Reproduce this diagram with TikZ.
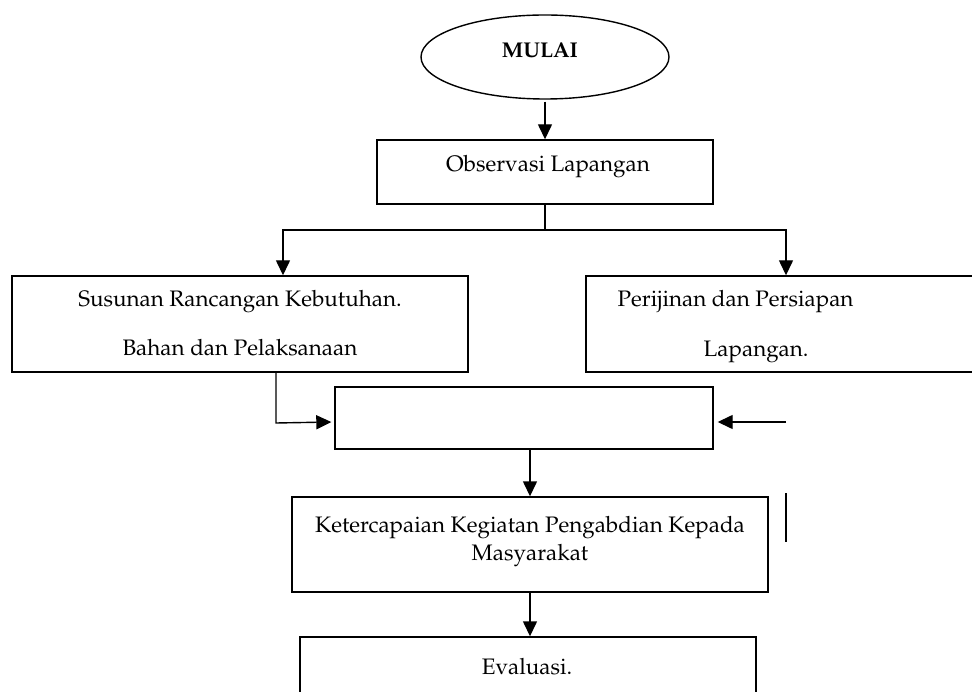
\documentclass[tikz,border=0pt]{standalone}
\usepackage[T1]{fontenc}
\usepackage{mathpazo}
\usetikzlibrary{arrows.meta,calc,shapes.geometric}
\begin{document}
\begin{tikzpicture}[x=1pt,y=-1pt,
  line width=1.4pt,
  lbl/.style={inner sep=0pt,anchor=base,font=\fontsize{22.4}{26}\selectfont},
  arr/.style={-{Triangle[length=15pt,width=14pt]}},
]
\useasboundingbox (0,0) rectangle (972,692);
% boxes
\node[draw,ellipse,line width=1.4pt,minimum width=248pt,minimum height=84pt,inner sep=0pt] (mulai) at (545,57) {};
\node[draw,minimum width=336pt,minimum height=64pt,inner sep=0pt] (obs) at (545,172) {};
\node[draw,minimum width=456pt,minimum height=96pt,inner sep=0pt] (kiri) at (240,324) {};
\node[draw,minimum width=400pt,minimum height=96pt,inner sep=0pt] (kanan) at (786,324) {};
\node[draw,minimum width=378pt,minimum height=62pt,inner sep=0pt] (tengah) at (524,418) {};
\node[draw,minimum width=476pt,minimum height=95pt,inner sep=0pt] (ket) at (530,544.5) {};
\node[draw,minimum width=456pt,minimum height=80pt,inner sep=0pt] (eval) at (528,677) {};
% texts
\node[inner sep=0pt,anchor=base,font=\fontsize{21.4}{26}\selectfont\bfseries] (tmulai) at (540,58) {MULAI};
\node[lbl] (tobs) at (548,172) {Observasi Lapangan};
\node[lbl] (tkiri1) at (240,307) {Susunan Rancangan Kebutuhan.};
\node[lbl] (tkiri2) at (240,356) {Bahan dan Pelaksanaan};
\node[lbl,anchor=base west] (tkanan1) at (617,307) {Perijinan dan Persiapan};
\node[lbl,anchor=base west] (tkanan2) at (703,357) {Lapangan.};
\node[lbl] (tket1) at (530,532) {Ketercapaian Kegiatan Pengabdian Kepada};
\node[lbl] (tket2) at (530,560) {Masyarakat};
\node[lbl] (teval) at (527,674) {Evaluasi.};
% connectors
\draw[arr,shorten <=2pt] (mulai.south) -- (obs.north);
\coordinate (j) at (545,230);
\draw (obs.south) -- (j);
\draw[arr] (j) -| (kiri.north -| 283,0);
\draw[arr] (j) -| (kanan.north);
\coordinate (kb) at (276,372);
\coordinate (kc) at (276,423);
\draw[arr] (kb) -- (kc) -- ($(tengah.west)+(-3,4)$);
\coordinate (rs) at (786,422);
\draw[arr] (rs) -- ($(tengah.east)+(4,4)$);
\draw[arr] ($(tengah.south)+(6,0)$) -- ($(ket.north)$);
\draw[arr] (ket.south) -- ($(eval.north)+(2,0)$);
\coordinate (v1) at (786,493);
\coordinate (v2) at (786,542);
\draw (v1) -- (v2);
\end{tikzpicture}
\end{document}
